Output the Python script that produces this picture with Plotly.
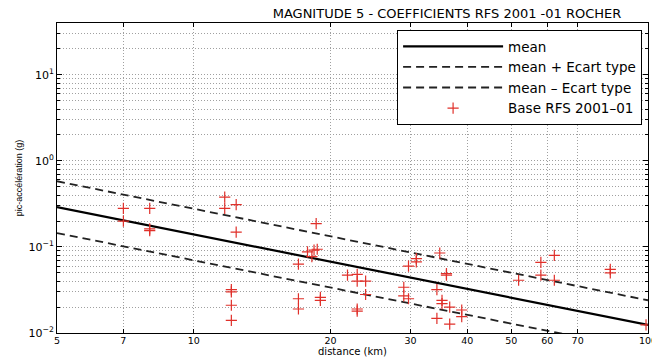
import plotly.graph_objects as go

# ---- data ----
line_dist = [5, 100]
mean_pga = [0.29, 0.0124]
plus_pga = [0.58, 0.024]
minus_pga = [0.145, 0.0062]

obs_dist = [7, 7, 8, 8, 8, 11.7, 11.7, 12.4, 12.4, 12.1, 12.1, 12.1, 12.1,
            17.0, 17.0, 17.0, 17.8, 18.2, 18.7, 18.4, 18.6, 19.0, 19.0,
            21.8, 22.9, 22.9, 23.9, 23.9, 22.9, 22.9,
            29.0, 29.0, 29.7, 29.7, 30.9, 30.9, 34.8, 36.0, 36.0, 34.3,
            35.2, 35.2, 36.6, 38.9, 38.9, 34.3, 36.6,
            51.9, 58.1, 58.1, 62.2, 62.2, 82.6, 82.6, 99]
obs_pga = [0.28, 0.20, 0.28, 0.155, 0.162, 0.38, 0.28, 0.31, 0.149, 0.030, 0.032, 0.021, 0.014,
           0.063, 0.025, 0.019, 0.0875, 0.077, 0.094, 0.092, 0.187, 0.024, 0.026,
           0.047, 0.048, 0.040, 0.040, 0.028, 0.018, 0.019,
           0.034, 0.027, 0.060, 0.025, 0.073, 0.067, 0.085, 0.047, 0.049, 0.032,
           0.024, 0.022, 0.020, 0.0185, 0.0155, 0.0148, 0.0127,
           0.041, 0.066, 0.047, 0.080, 0.041, 0.055, 0.050, 0.0124]

x_ticks = [5, 7, 10, 20, 30, 40, 50, 60, 70, 100]
x_ticktext = ["5", "7", "10", "20", "30", "40", "50", "60", "70", "100"]
y_ticks = [0.01, 0.1, 1, 10]
y_ticktext = ["10<sup>−2</sup>", "10<sup>−1</sup>", "10<sup>0</sup>", "10<sup>1</sup>"]
y_minor = [m * d for d in (0.01, 0.1, 1) for m in range(2, 10)] + [20, 30]

title_text = "MAGNITUDE 5 - COEFFICIENTS RFS 2001 -01 ROCHER"
x_title = "distance (km)"
y_title = "pic-accélération (g)"

FONT = "DejaVu Sans"
GRID = "#a0a0a0"
GDASH = "1px,2px"

fig = go.Figure()
fig.add_trace(go.Scatter(x=line_dist, y=mean_pga, mode="lines", name="mean",
                         line=dict(color="black", width=2.2)))
fig.add_trace(go.Scatter(x=line_dist, y=plus_pga, mode="lines", name="mean + Ecart type",
                         line=dict(color="#222222", width=1.8, dash="8px,5px")))
fig.add_trace(go.Scatter(x=line_dist, y=minus_pga, mode="lines", name="mean – Ecart type",
                         line=dict(color="#222222", width=1.8, dash="8px,5px")))
fig.add_trace(go.Scatter(x=obs_dist, y=obs_pga, mode="markers", name="Base RFS 2001–01",
                         marker=dict(symbol="cross-thin", size=8,
                                     line=dict(color="#e0302a", width=1.2)),
                         cliponaxis=True))

fig.update_layout(
    width=652, height=358,
    margin=dict(l=57, r=4, t=23, b=25),
    paper_bgcolor="white", plot_bgcolor="white",
    font=dict(family=FONT, size=11, color="black"),
    title=dict(text=title_text, x=447 / 652, xanchor="center", xref="container",
               y=1 - 13 / 358, yanchor="middle", yref="container",
               font=dict(family=FONT, size=13, color="black")),
    legend=dict(x=0.99, xanchor="right", y=0.977, yanchor="top",
                bgcolor="white", bordercolor="black", borderwidth=1,
                font=dict(family=FONT, size=13.5, color="black"),
                itemwidth=100, tracegroupgap=0),
    showlegend=True,
    annotations=[dict(text=x_title, xref="paper", yref="paper",
                      x=0.5, xanchor="center", y=-26 / 310, yanchor="bottom",
                      showarrow=False, font=dict(family=FONT, size=10, color="black"))],
)

fig.update_xaxes(
    type="log", range=[0.69897, 2.0],
    tickmode="array", tickvals=x_ticks, ticktext=x_ticktext,
    ticks="inside", ticklen=4, tickcolor="black",
    showline=True, linecolor="black", linewidth=1, mirror="allticks",
    showgrid=True, gridcolor=GRID, griddash=GDASH, gridwidth=1,
    zeroline=False, automargin=False, ticklabeloverflow="allow",
    ticklabelstandoff=-1,
    tickfont=dict(family=FONT, size=9.5),
)
fig.update_yaxes(
    type="log", range=[-2.0, 1.602],
    tickmode="array", tickvals=y_ticks, ticktext=y_ticktext,
    ticks="inside", ticklen=5, tickcolor="black",
    showline=True, linecolor="black", linewidth=1, mirror="allticks",
    showgrid=True, gridcolor=GRID, griddash=GDASH, gridwidth=1,
    minor=dict(tickmode="array", tickvals=y_minor, ticks="inside", ticklen=3,
               tickcolor="black", showgrid=True, gridcolor=GRID, griddash=GDASH, gridwidth=1),
    zeroline=False, automargin=False,
    tickfont=dict(family=FONT, size=11),
    title=dict(text=y_title, standoff=4, font=dict(family="Liberation Sans", size=9)),
)

fig.write_html("out.html")
